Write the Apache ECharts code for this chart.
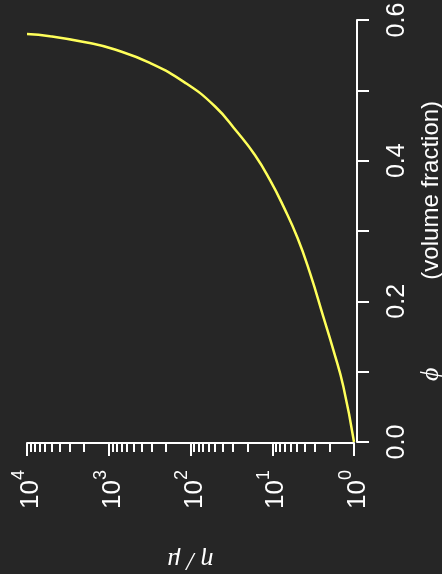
<!DOCTYPE html>
<html>
<head>
<meta charset="utf-8">
<script src="https://cdn.jsdelivr.net/npm/echarts@6/dist/echarts.min.js"></script>
<style>
  html, body { margin: 0; padding: 0; background: #262626; }
  #chart { width: 442px; height: 574px; }
</style>
</head>
<body>
<div id="chart"></div>
<script>
// Relative viscosity of a suspension versus particle volume fraction
const phi = [0, 0.079, 0.131, 0.178, 0.240, 0.290, 0.335, 0.372, 0.408, 0.441, 0.477, 0.511, 0.539, 0.558, 0.568, 0.577, 0.580];
const viscosityRatio = [1, 1.35, 1.79, 2.37, 3.45, 4.9, 7.3, 10.6, 16.3, 27, 50, 117, 314, 840, 1860, 5250, 10000];

// Axis ticks
const phiLabelValues = [0, 0.2, 0.4, 0.6];
const ratioDecades = [0, 1, 2, 3, 4];

const points = phi.map((p, i) => [viscosityRatio[i], p]);

const font = 'Liberation Sans, Arial, sans-serif';
const white = '#ffffff';

const chart = echarts.init(document.getElementById('chart'), null, { renderer: 'canvas' });

chart.setOption({
  backgroundColor: '#262626',
  animation: false,
  grid: { left: 27, right: 88, top: 20, bottom: 132, containLabel: false, outerBoundsMode: 'none' },
  xAxis: {
    type: 'log',
    logBase: 10,
    inverse: true,
    min: Math.pow(10, ratioDecades[0]),
    max: Math.pow(10, ratioDecades[ratioDecades.length - 1]),
    position: 'bottom',
    offset: 1,
    splitLine: { show: false },
    axisLine: { show: true, onZero: false, lineStyle: { color: white, width: 2 } },
    axisTick: { show: true, inside: false, length: 13, lineStyle: { color: white, width: 2 } },
    minorTick: { show: true, splitNumber: 9, length: 9, lineStyle: { color: white, width: 2 } },
    axisLabel: {
      rotate: 90,
      margin: 27,
      color: white,
      fontFamily: font,
      formatter: v => {
        const e = Math.round(Math.log10(v));
        return ratioDecades.includes(e) ? '{b|10}{s|' + e + '}' : '';
      },
      rich: {
        b: { fontSize: 26, fontFamily: font, color: white, lineHeight: 34, verticalAlign: 'bottom' },
        s: { fontSize: 18, fontFamily: font, color: white, lineHeight: 34, verticalAlign: 'top' }
      }
    },
    name: 'η / μ',
    nameLocation: 'middle',
    nameRotate: 180,
    nameGap: 104,
    nameTextStyle: { color: white, fontSize: 26, fontStyle: 'italic', fontFamily: 'Liberation Serif, serif' }
  },
  yAxis: {
    type: 'value',
    position: 'right',
    offset: 3,
    min: 0,
    max: 0.6,
    interval: 0.1,
    splitLine: { show: false },
    axisLine: { show: true, onZero: false, lineStyle: { color: white, width: 2 } },
    axisTick: { show: true, inside: false, length: 12, lineStyle: { color: white, width: 2 } },
    axisLabel: {
      rotate: 90,
      margin: 28,
      color: white,
      fontSize: 25,
      fontFamily: font,
      formatter: v => phiLabelValues.some(t => Math.abs(t - v) < 1e-6) ? v.toFixed(1) : ''
    },
    name: '{p|ϕ}{g|}(volume fraction){t|}',
    nameLocation: 'middle',
    nameRotate: 90,
    nameGap: 60,
    nameTextStyle: {
      color: white, fontSize: 24, fontFamily: font,
      rich: {
        p: { fontSize: 26, fontStyle: 'italic', fontFamily: 'Liberation Serif, serif', color: white },
        g: { width: 88 },
        t: { width: 20 }
      }
    }
  },
  series: [{
    type: 'line',
    data: points,
    smooth: true,
    showSymbol: false,
    symbol: 'none',
    lineStyle: { color: '#ffff5a', width: 2.5 }
  }]
});
</script>
</body>
</html>
